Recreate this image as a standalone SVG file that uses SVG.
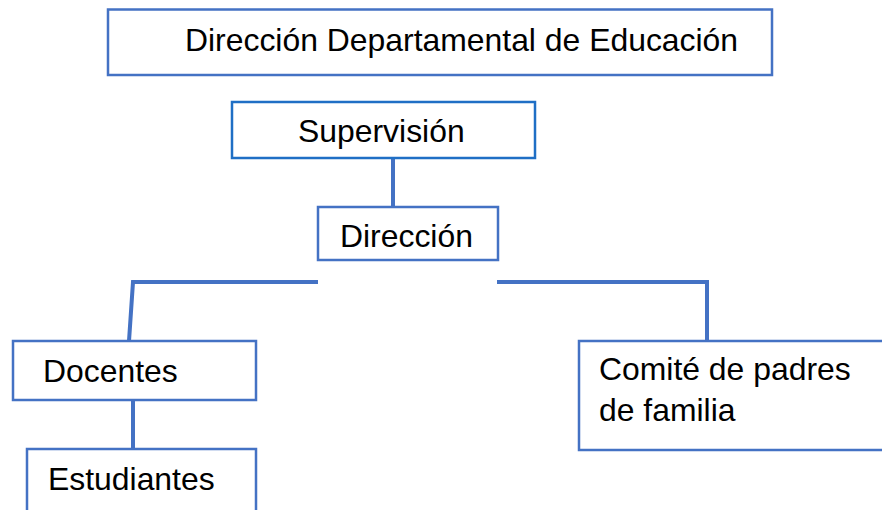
<svg xmlns="http://www.w3.org/2000/svg" width="882" height="510" viewBox="0 0 882 510">
<style>
.box{fill:#fff;stroke:#4472C4;stroke-width:2.5}
.sup{fill:#fff;stroke:#1F6FC5;stroke-width:2.5}
.t{font-family:"Liberation Sans",Arial,sans-serif;font-size:31.9px;fill:#000}
.c{fill:none;stroke:#4472C4;stroke-width:4}
</style>
<rect width="882" height="510" fill="#fff"/>
<g id="connectors">
<line class="c" x1="393" y1="158" x2="393" y2="207"/>
<polyline class="c" points="318,282 133,282 129,341"/>
<polyline class="c" points="497,282 707,282 707,341"/>
<line class="c" x1="133" y1="400" x2="133" y2="449"/>
</g>
<g id="n-ddeduc">
<rect class="box" x="108" y="9.5" width="664" height="65.5"/>
<text class="t" x="185" y="51">Dirección Departamental de Educación</text>
</g>
<g id="n-supervision">
<rect class="sup" x="232" y="102" width="303" height="56"/>
<text class="t" x="298" y="142">Supervisión</text>
</g>
<g id="n-direccion">
<rect class="box" x="318" y="207" width="180" height="53"/>
<text class="t" x="340" y="247">Dirección</text>
</g>
<g id="n-docentes">
<rect class="box" x="13" y="341" width="243" height="59"/>
<text class="t" x="43" y="382">Docentes</text>
</g>
<g id="n-estudiantes">
<rect class="box" x="27" y="449" width="229" height="70"/>
<text class="t" x="48" y="490">Estudiantes</text>
</g>
<g id="n-comite">
<rect class="box" x="579" y="341" width="320" height="109"/>
<text class="t" x="599" y="380">Comité de padres</text>
<text class="t" x="599" y="421">de familia</text>
</g>
</svg>
